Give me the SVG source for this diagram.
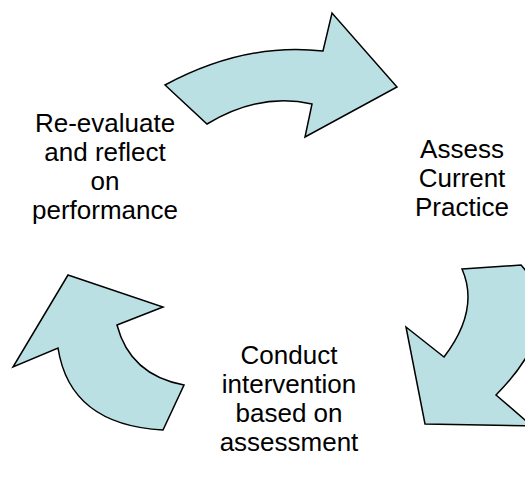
<svg xmlns="http://www.w3.org/2000/svg" width="525" height="479" viewBox="0 0 525 479">
<style>
.arrow{fill:#BBE0E3;stroke:#000;stroke-width:1.5;stroke-linejoin:miter}
.lbl{font-family:"Liberation Sans",Arial,sans-serif;font-size:26px;fill:#000;text-anchor:middle}
</style>
<rect width="525" height="479" fill="#fff"/>
<g id="connectors">
<path id="arrow-top" class="arrow" d="M165,85 Q245,42 323,51 L332,13 L397,87 L305,137 L312,104 Q260,92 207,124 Z"/>
<path id="arrow-right" class="arrow" d="M462,269 L521,265 Q570,320 496,395 L532,426 L425,424 L406,327 L444,357 Q480,310 462,269 Z"/>
<path id="arrow-left" class="arrow" d="M68,275 L163,307 L117,325 Q130,375 184,385 L163,430 Q70,425 58,348 L13,367 Z"/>
</g>
<g id="node-reevaluate">
<text class="lbl" x="105" y="132">Re-evaluate</text>
<text class="lbl" x="105" y="161">and reflect</text>
<text class="lbl" x="105" y="190">on</text>
<text class="lbl" x="105" y="219">performance</text>
</g>
<g id="node-assess">
<text class="lbl" x="462" y="158">Assess</text>
<text class="lbl" x="462" y="187">Current</text>
<text class="lbl" x="462" y="216">Practice</text>
</g>
<g id="node-conduct">
<text class="lbl" x="289" y="364">Conduct</text>
<text class="lbl" x="289" y="393">intervention</text>
<text class="lbl" x="289" y="422">based on</text>
<text class="lbl" x="289" y="451">assessment</text>
</g>
</svg>
